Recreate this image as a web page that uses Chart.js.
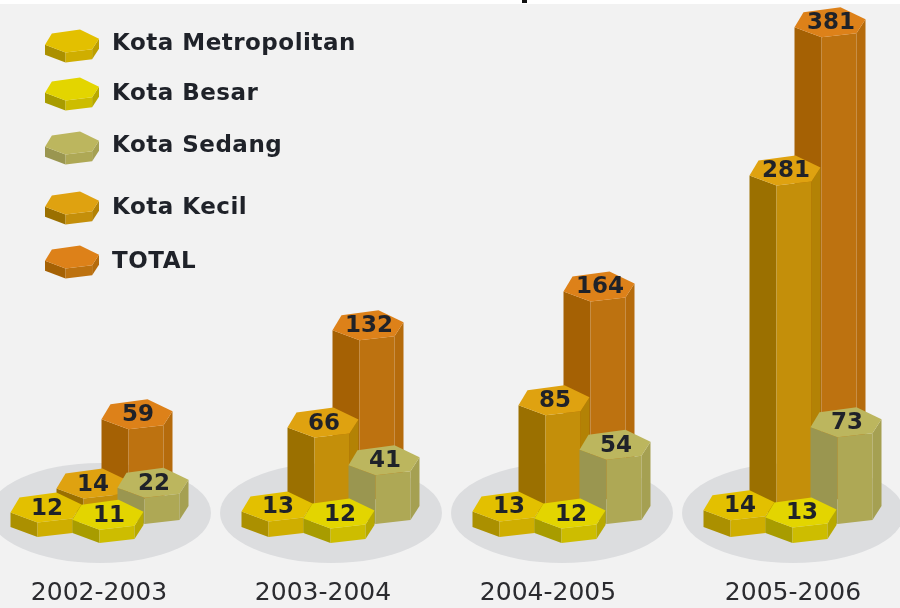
<!DOCTYPE html>
<html>
<head>
<meta charset="utf-8">
<style>
html,body{margin:0;padding:0;background:#fff}
canvas{display:block;filter:blur(0.6px)}
</style>
<script src="https://cdn.jsdelivr.net/npm/chart.js@4"></script>
</head>
<body>
<canvas id="c" width="900" height="608"></canvas>
<script>
const categories = ['2002-2003','2003-2004','2004-2005','2005-2006'];
const seriesNames = ['Kota Metropolitan','Kota Besar','Kota Sedang','Kota Kecil','TOTAL'];
const metropolitan = [12,13,13,14];
const besar = [11,12,12,13];
const sedang = [22,41,54,73];
const kecil = [14,66,85,281];
const total = [59,132,164,381];

// styling / layout constants
const AREA_BOTTOM = 560;
const HEX = [[-35.5,5],[-26.5,-10],[10.5,-15],[35.5,-3],[26.5,11],[-8.5,15]];
const PALETTE = [
  {top:'#e3c000',left:'#ab9000',front:'#cfae00',right:'#bd9f00'},
  {top:'#e3d500',left:'#a89c00',front:'#cdbd00',right:'#b8a900'},
  {top:'#bcb65e',left:'#9a9650',front:'#aea855',right:'#a5a052'},
  {top:'#dfa210',left:'#9b7000',front:'#c48f0a',right:'#b38205'},
  {top:'#dd8119',left:'#a56104',front:'#bd7210',right:'#b56b0c'}
];
const X_SHIFT = [-54,8,53,-8,37];
const DRAW_ORDER = [1,0,2,3,4];
const AXIS_FIT = [[522,1.2],[528,1.2],[509,1.19],[500,1.173],[486,1.217]];
const LABEL_SHIFT = [-1,-8,-14,0];
const LEGEND_ROWS = [[41,44],[89,94],[143,146],[203,208],[257,262]];
const TEXT_DARK = '#1f2229';

function poly(ctx,pts,fill){
  ctx.beginPath();
  pts.forEach((p,i)=> i?ctx.lineTo(p[0],p[1]):ctx.moveTo(p[0],p[1]));
  ctx.closePath();
  ctx.fillStyle=fill; ctx.fill();
}
function prism(ctx,cx,top,h,col,sx=1,sy=1){
  const v=HEX.map(p=>[cx+p[0]*sx,top+p[1]*sy]);
  const d=(p)=>[p[0],p[1]+h];
  poly(ctx,[v[0],v[5],d(v[5]),d(v[0])],col.left);
  poly(ctx,[v[5],v[4],d(v[4]),d(v[5])],col.front);
  poly(ctx,[v[4],v[3],d(v[3]),d(v[4])],col.right);
  poly(ctx,v,col.top);
}
const hexColumns = {
  id:'hexColumns',
  beforeDraw(chart){
    const ctx=chart.ctx;
    ctx.save();
    ctx.fillStyle='#fff'; ctx.fillRect(0,0,900,608);
    ctx.fillStyle='#f2f2f2'; ctx.fillRect(0,4,900,604);
    ctx.fillStyle='#111'; ctx.fillRect(522,0,5,3);
    ctx.restore();
  },
  beforeDatasetsDraw(chart){
    const ctx=chart.ctx, xs=chart.scales.x;
    ctx.save();
    ctx.fillStyle='#dcdddf';
    categories.forEach((c,i)=>{
      ctx.beginPath();
      ctx.ellipse(xs.getPixelForValue(i),513,111,50,0,0,Math.PI*2);
      ctx.fill();
    });
    ctx.restore();
  },
  beforeDatasetDraw(chart,args){
    const ctx=chart.ctx, k=args.index, ds=chart.data.datasets[k];
    ctx.save();
    args.meta.data.forEach((bar,i)=>{
      const cx=bar.x+X_SHIFT[k];
      prism(ctx,cx,bar.y,bar.base-bar.y,PALETTE[k]);
      ctx.fillStyle=TEXT_DARK;
      ctx.font='bold 23px "DejaVu Sans"';
      ctx.textAlign='center'; ctx.textBaseline='middle';
      ctx.fillText(String(ds.data[i]),cx+1,bar.y+1);
    });
    ctx.restore();
    return false;
  },
  afterDatasetsDraw(chart){
    const ctx=chart.ctx;
    ctx.save();
    seriesNames.forEach((name,k)=>{
      const r=LEGEND_ROWS[k];
      prism(ctx,72,r[0],10,PALETTE[k],0.76,0.76);
      ctx.fillStyle=TEXT_DARK;
      ctx.font='bold 23px "DejaVu Sans"';
      ctx.letterSpacing='0.5px';
      ctx.textAlign='left'; ctx.textBaseline='middle';
      ctx.fillText(name,112,r[1]);
    });
    ctx.restore();
  }
};
function yAxis(i){
  const base=AXIS_FIT[i][0], k=AXIS_FIT[i][1];
  return {display:false,min:(base-AREA_BOTTOM)/k,max:base/k};
}
const seriesValues=[metropolitan,besar,sedang,kecil,total];
new Chart(document.getElementById('c'),{
  type:'bar',
  data:{
    labels:categories,
    datasets:seriesNames.map((n,k)=>({
      label:n,data:seriesValues[k],yAxisID:'y'+k,order:DRAW_ORDER[k],
      grouped:false,backgroundColor:PALETTE[k].front
    }))
  },
  options:{
    responsive:false,animation:false,
    layout:{padding:{left:100,right:107,top:0,bottom:0}},
    plugins:{legend:{display:false},title:{display:false},tooltip:{enabled:false}},
    scales:{
      x:{
        offset:false,
        grid:{display:false,drawTicks:false},border:{display:false},
        ticks:{color:'#2b2b2f',font:{family:'"DejaVu Sans"',size:25},padding:18,maxRotation:0,autoSkip:false},
        afterFit(s){
          s.height=608-AREA_BOTTOM;
          s.getPixelForTick=i=>s.getPixelForValue(i)+LABEL_SHIFT[i];
        }
      },
      y0:yAxis(0),y1:yAxis(1),y2:yAxis(2),y3:yAxis(3),y4:yAxis(4)
    }
  },
  plugins:[hexColumns]
});
</script>
</body>
</html>
